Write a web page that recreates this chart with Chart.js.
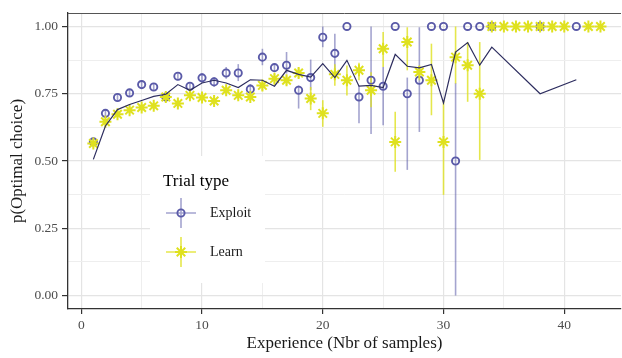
<!DOCTYPE html>
<html>
<head>
<meta charset="utf-8">
<title>p(Optimal choice) by experience</title>
<script src="https://cdn.jsdelivr.net/npm/chart.js@4.4.1/dist/chart.umd.min.js"></script>
<style>
  html, body { margin: 0; padding: 0; background: #ffffff; }
  canvas { display: block; }
</style>
</head>
<body>
<canvas id="myChart" width="622" height="358"></canvas>
<script>
// Exploit trials: mean and error bar (lo / hi)
var exploitX = [1,2,3,4,5,6,7,8,9,10,11,12,13,14,15,16,17,18,19,20,21,22,23,24,25,26,27,28,29,30,31,32,33,34,38,41];
var exploitMean = [0.571,0.677,0.736,0.753,0.784,0.775,0.738,0.815,0.778,0.809,0.794,0.827,0.827,0.767,0.886,0.847,0.856,0.763,0.810,0.960,0.900,1.000,0.738,0.800,0.778,1.000,0.750,0.800,1.000,1.000,0.500,1.000,1.000,1.000,1.000,1.000];
var exploitLo = [0.556,0.662,0.722,0.738,0.768,0.760,0.722,0.800,0.762,0.791,0.776,0.806,0.797,0.748,0.856,0.832,0.825,0.695,0.763,0.923,0.819,1.000,0.640,0.600,0.633,1.000,0.467,0.608,1.000,1.000,0.000,1.000,1.000,1.000,1.000,1.000];
var exploitHi = [0.586,0.692,0.750,0.768,0.800,0.790,0.754,0.830,0.794,0.827,0.812,0.849,0.860,0.786,0.917,0.862,0.905,0.781,0.877,1.000,0.973,1.000,0.781,1.000,0.849,1.000,0.810,0.997,1.000,1.000,0.790,1.000,1.000,1.000,1.000,1.000];

// Learn trials: mean and error bar (lo / hi)
var learnX = [1,2,3,4,5,6,7,8,9,10,11,12,13,14,15,16,17,18,19,20,21,22,23,24,25,26,27,28,29,30,31,32,33,34,35,36,37,38,39,40,42,43];
var learnMean = [0.565,0.646,0.674,0.689,0.699,0.705,0.738,0.714,0.744,0.736,0.723,0.763,0.744,0.738,0.781,0.806,0.800,0.827,0.732,0.677,0.822,0.800,0.837,0.763,0.917,0.571,0.942,0.831,0.800,0.571,0.886,0.856,0.750,1,1,1,1,1,1,1,1,1];
var learnLo = [0.550,0.632,0.660,0.676,0.686,0.692,0.724,0.700,0.730,0.722,0.708,0.748,0.730,0.724,0.762,0.788,0.782,0.808,0.689,0.627,0.780,0.743,0.800,0.700,0.849,0.460,0.837,0.800,0.670,0.374,0.788,0.720,0.504,1,1,1,1,1,1,1,1,1];
var learnHi = [0.580,0.660,0.688,0.702,0.712,0.718,0.752,0.728,0.758,0.750,0.738,0.778,0.758,0.752,0.800,0.824,0.818,0.846,0.775,0.726,0.860,0.855,0.865,0.830,0.979,0.683,0.997,0.855,0.936,0.726,1.000,0.942,0.942,1,1,1,1,1,1,1,1,1];

// Overall line
var lineX = [1,2,3,4,5,6,7,8,9,10,11,12,13,14,15,16,17,18,19,20,21,22,23,24,25,26,27,28,29,30,31,32,33,34,38,41];
var lineY = [0.506,0.630,0.691,0.710,0.725,0.740,0.748,0.784,0.763,0.790,0.800,0.790,0.773,0.802,0.800,0.778,0.837,0.822,0.812,0.862,0.810,0.874,0.778,0.781,0.773,0.896,0.852,0.846,0.859,0.716,0.905,0.940,0.856,0.923,0.750,0.802];

// Axis ticks
var xTicks = [0,5,10,15,20,25,30,35,40];
var yTicks = [0,0.125,0.25,0.375,0.5,0.625,0.75,0.875,1];

var exploitColor = '#5a5aa8';
var exploitBar = 'rgba(90, 90, 168, 0.55)';
var learnColor = '#dfe11f';
var learnBar = 'rgba(223, 225, 31, 0.8)';
var lineColor = '#2d2d5f';
var serif = "'Liberation Serif', 'Times New Roman', serif";

function toPoints(xs, ys) {
    return xs.map(function(x, i) { return { x: x, y: ys[i] }; });
}

function isMajorY(v) { return Math.abs(v * 4 - Math.round(v * 4)) < 1e-9; }
function isMajorX(v) { return v % 10 === 0; }

// error bars under the points, panel top border and the legend box
var errorBars = {
    id: 'errorBars',
    beforeDatasetsDraw: function(chart) {
        var c = chart.ctx, xs = chart.scales.x, ys = chart.scales.y, a = chart.chartArea;
        c.save();
        c.beginPath();
        c.rect(a.left, a.top, a.right - a.left, a.bottom - a.top);
        c.clip();
        c.lineWidth = 1.6;
        function bars(xv, lo, hi, color) {
            c.strokeStyle = color;
            for (var i = 0; i < xv.length; i++) {
                if (hi[i] - lo[i] <= 0) continue;
                var px = xs.getPixelForValue(xv[i]);
                c.beginPath();
                c.moveTo(px, ys.getPixelForValue(lo[i]));
                c.lineTo(px, ys.getPixelForValue(hi[i]));
                c.stroke();
            }
        }
        bars(exploitX, exploitLo, exploitHi, exploitBar);
        bars(learnX, learnLo, learnHi, learnBar);
        c.restore();
    },
    afterDraw: function(chart) {
        var c = chart.ctx, a = chart.chartArea;
        c.save();
        c.strokeStyle = '#555555';
        c.lineWidth = 1;
        c.beginPath();
        c.moveTo(a.left, a.top + 0.5);
        c.lineTo(a.right, a.top + 0.5);
        c.stroke();

        c.fillStyle = '#ffffff';
        c.fillRect(150, 156, 115, 127);
        c.fillStyle = '#000000';
        c.textBaseline = 'alphabetic';
        c.font = '17px ' + serif;
        c.fillText('Trial type', 163, 186);

        c.lineWidth = 1.6;
        c.strokeStyle = exploitBar;
        c.beginPath();
        c.moveTo(166, 213); c.lineTo(196, 213);
        c.moveTo(181, 198); c.lineTo(181, 228);
        c.stroke();
        c.strokeStyle = exploitColor;
        c.lineWidth = 1.9;
        c.beginPath();
        c.arc(181, 213, 3.6, 0, Math.PI * 2);
        c.stroke();

        c.lineWidth = 1.6;
        c.strokeStyle = learnBar;
        c.beginPath();
        c.moveTo(166, 252); c.lineTo(196, 252);
        c.moveTo(181, 237); c.lineTo(181, 267);
        c.stroke();
        c.strokeStyle = learnColor;
        c.lineWidth = 2;
        c.beginPath();
        for (var k = 0; k < 4; k++) {
            var ang = k * Math.PI / 4;
            c.moveTo(181 - 6 * Math.cos(ang), 252 - 6 * Math.sin(ang));
            c.lineTo(181 + 6 * Math.cos(ang), 252 + 6 * Math.sin(ang));
        }
        c.stroke();

        c.fillStyle = '#1a1a1a';
        c.font = '14px ' + serif;
        c.textBaseline = 'middle';
        c.fillText('Exploit', 210, 213);
        c.fillText('Learn', 210, 252);
        c.restore();
    }
};

var ctx = document.getElementById('myChart').getContext('2d');
var myChart = new Chart(ctx, {
    type: 'scatter',
    data: {
        datasets: [{
            type: 'line',
            label: 'All',
            data: toPoints(lineX, lineY),
            borderColor: lineColor,
            borderWidth: 1.2,
            pointRadius: 0,
            fill: false,
            tension: 0,
            order: 1
        }, {
            label: 'Exploit',
            data: toPoints(exploitX, exploitMean),
            pointStyle: 'circle',
            pointRadius: 3.6,
            pointBorderWidth: 1.9,
            pointBorderColor: exploitColor,
            pointBackgroundColor: 'rgba(0,0,0,0)',
            order: 3
        }, {
            label: 'Learn',
            data: toPoints(learnX, learnMean),
            pointStyle: 'star',
            pointRadius: 6,
            pointBorderWidth: 2,
            pointBorderColor: learnColor,
            pointBackgroundColor: learnColor,
            order: 2
        }]
    },
    options: {
        responsive: false,
        animation: false,
        devicePixelRatio: 1,
        events: [],
        layout: { autoPadding: false, padding: { top: 13, right: 1, left: 0, bottom: 0 } },
        plugins: {
            legend: { display: false },
            tooltip: { enabled: false }
        },
        scales: {
            x: {
                type: 'linear',
                min: -1.1,
                max: 44.7,
                afterBuildTicks: function(axis) {
                    axis.ticks = xTicks.map(function(v) { return { value: v }; });
                },
                afterFit: function(axis) { axis.height = 49; },
                grid: {
                    color: function(c) { return isMajorX(c.tick.value) ? '#e4e4e4' : '#eeeeee'; },
                    lineWidth: function(c) { return isMajorX(c.tick.value) ? 1.2 : 1; },
                    tickLength: 5,
                    tickWidth: 1.2,
                    tickColor: function(c) { return isMajorX(c.tick.value) ? '#333333' : 'rgba(0,0,0,0)'; }
                },
                border: { color: '#333333', width: 1.3 },
                ticks: {
                    autoSkip: false,
                    maxRotation: 0,
                    padding: 3,
                    color: '#4d4d4d',
                    font: { family: serif, size: 13.5 },
                    callback: function(v) { return isMajorX(v) ? String(v) : ''; }
                },
                title: {
                    display: true,
                    text: 'Experience (Nbr of samples)',
                    color: '#1a1a1a',
                    font: { family: serif, size: 17 },
                    padding: { top: 0, bottom: 4 }
                }
            },
            y: {
                min: -0.05,
                max: 1.05,
                afterBuildTicks: function(axis) {
                    axis.ticks = yTicks.map(function(v) { return { value: v }; });
                },
                afterFit: function(axis) { axis.width = 68; },
                grid: {
                    color: function(c) { return isMajorY(c.tick.value) ? '#e4e4e4' : '#eeeeee'; },
                    lineWidth: function(c) { return isMajorY(c.tick.value) ? 1.2 : 1; },
                    tickLength: 6,
                    tickWidth: 1.2,
                    tickColor: function(c) { return isMajorY(c.tick.value) ? '#333333' : 'rgba(0,0,0,0)'; }
                },
                border: { color: '#333333', width: 1.3 },
                ticks: {
                    autoSkip: false,
                    padding: 4,
                    color: '#4d4d4d',
                    font: { family: serif, size: 13.5 },
                    callback: function(v) { return isMajorY(v) ? v.toFixed(2) : ''; }
                },
                title: {
                    display: true,
                    text: 'p(Optimal choice)',
                    color: '#1a1a1a',
                    font: { family: serif, size: 17 },
                    padding: { top: 7, bottom: 0 }
                }
            }
        }
    },
    plugins: [errorBars]
});
</script>
</body>
</html>
